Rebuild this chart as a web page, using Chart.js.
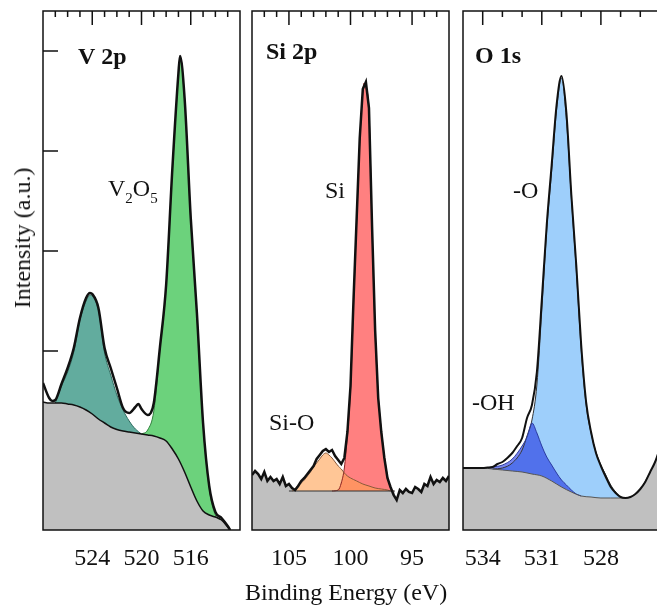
<!DOCTYPE html>
<html>
<head>
<meta charset="utf-8">
<script src="https://cdn.jsdelivr.net/npm/chart.js@4.4.1/dist/chart.umd.min.js"></script>
<style>
html, body { margin:0; padding:0; background:#fff; overflow:hidden; }
#wrap { position:relative; width:657px; height:607px; overflow:hidden; font-family:"Liberation Serif","Times New Roman",serif; color:#111; }
canvas { position:absolute; top:0; }
.axis-title { position:absolute; font-size:24px; line-height:24px; white-space:nowrap; }
</style>
</head>
<body>
<div id="wrap">
  <canvas id="c-v" width="250" height="607" style="left:0"></canvas>
  <canvas id="c-si" width="210" height="607" style="left:245px"></canvas>
  <canvas id="c-o" width="205" height="607" style="left:455px"></canvas>
  <div class="axis-title" style="left:245px; top:580px;">Binding Energy (eV)</div>
  <div class="axis-title" style="left:22px; top:238px; transform:translate(-50%,-50%) rotate(-90deg);">Intensity (a.u.)</div>
</div>
<script>
// intensity axis (a.u.), same for all three panels
const Y_MIN = -0.79, Y_MAX = 4.40;

// ---- V 2p ----
const vTicksMajor = [524, 520, 516];
const vTicksMinor = [527, 526, 525, 523, 522, 521, 519, 518, 517, 515, 514, 513];
const vTicksY = [1, 2, 3, 4];
const vDataE = [528, 527.5, 527.25, 527, 526.5, 526, 525.5, 525, 524.5, 524.18, 524, 523.5, 523, 522.5, 522, 521.5, 521, 520.5, 520.25, 520, 519.5, 519.25, 519, 518.5, 518, 517.5, 517, 516.87, 516.5, 516, 515.5, 515, 514.5, 514, 513.5, 513, 512.8];
const vData  = [0.68, 0.53, 0.50, 0.51, 0.67, 0.83, 1.03, 1.33, 1.53, 1.58, 1.57, 1.43, 1.03, 0.83, 0.63, 0.43, 0.38, 0.44, 0.47, 0.42, 0.36, 0.38, 0.48, 1.04, 1.66, 2.81, 3.78, 3.95, 3.53, 2.33, 1.38, 0.28, -0.35, -0.61, -0.67, -0.75, -0.79];
const vBgE = [528, 527.5, 527, 526.5, 526, 525.5, 525, 524.5, 524, 523.5, 523, 522.5, 522, 521.5, 521, 520.5, 520, 519.5, 519, 518.5, 518, 517.5, 517, 516.5, 516, 515.5, 515, 514.5, 514, 513.5, 513, 512.8];
const vBg  = [0.49, 0.48, 0.48, 0.48, 0.47, 0.46, 0.44, 0.41, 0.37, 0.32, 0.28, 0.24, 0.215, 0.20, 0.19, 0.18, 0.17, 0.16, 0.15, 0.13, 0.10, 0.02, -0.08, -0.21, -0.36, -0.50, -0.60, -0.64, -0.66, -0.69, -0.76, -0.79];
const vTealE = [527, 526.5, 526, 525.5, 525, 524.5, 524.18, 524, 523.5, 523, 522.5, 522, 521.5, 521, 520.5, 520];
const vTeal  = [0.48, 0.65, 0.79, 0.99, 1.31, 1.50, 1.56, 1.55, 1.41, 0.98, 0.76, 0.56, 0.41, 0.30, 0.22, 0.17];
const vGreenE = [520, 519.5, 519, 518.5, 518, 517.5, 517, 516.87, 516.5, 516, 515.5, 515, 514.5, 514, 513.5];
const vGreen  = [0.17, 0.21, 0.40, 1.02, 1.64, 2.79, 3.76, 3.93, 3.51, 2.31, 1.36, 0.26, -0.37, -0.64, -0.69];

// ---- Si 2p ----
const siTicksMajor = [105, 100, 95];
const siTicksMinor = [107, 106, 104, 103, 102, 101, 99, 98, 97, 96, 94, 93];
const siDataE = [108, 107.75, 107.5, 107.25, 107, 106.75, 106.5, 106.25, 106, 105.75, 105.5, 105.25, 105, 104.75, 104.5, 104.25, 104, 103.75, 103.5, 103.25, 103, 102.75, 102.5, 102.25, 102, 101.75, 101.5, 101.25, 101, 100.75, 100.5, 100.25, 100, 99.75, 99.5, 99.25, 99, 98.75, 98.5, 98.25, 98, 97.75, 97.5, 97.25, 97, 96.75, 96.5, 96.25, 96, 95.75, 95.5, 95.25, 95, 94.75, 94.5, 94.25, 94, 93.75, 93.5, 93.25, 93, 92.75, 92.5, 92.25, 92];
const siData  = [-0.24, -0.20, -0.23, -0.28, -0.21, -0.30, -0.26, -0.30, -0.28, -0.33, -0.26, -0.35, -0.33, -0.37, -0.39, -0.35, -0.30, -0.27, -0.23, -0.19, -0.15, -0.08, -0.04, 0.00, 0.02, -0.01, 0.01, -0.05, -0.09, -0.13, -0.07, 0.19, 0.65, 1.53, 2.33, 3.13, 3.62, 3.69, 3.43, 2.25, 1.21, 0.53, 0.19, -0.07, -0.27, -0.36, -0.44, -0.49, -0.39, -0.42, -0.38, -0.41, -0.42, -0.36, -0.38, -0.41, -0.33, -0.35, -0.26, -0.33, -0.29, -0.31, -0.27, -0.30, -0.25];
const siBgE = [105, 96.4];
const siBg  = [-0.40, -0.40];
const siOxE = [104.75, 104.5, 104.25, 104, 103.75, 103.5, 103.25, 103, 102.75, 102.5, 102.25, 102, 101.75, 101.5, 101.25, 101, 100.75, 100.5, 100.25, 100, 99.5, 99, 98.5, 98, 97.5, 97, 96.75];
const siOx  = [-0.40, -0.38, -0.34, -0.32, -0.29, -0.25, -0.21, -0.16, -0.12, -0.08, -0.04, -0.02, -0.04, -0.07, -0.11, -0.15, -0.18, -0.22, -0.25, -0.27, -0.30, -0.33, -0.35, -0.37, -0.38, -0.39, -0.40];
const siE = [101.5, 101, 100.75, 100.5, 100.25, 100, 99.75, 99.5, 99.25, 99, 98.9, 98.75, 98.5, 98.25, 98, 97.75, 97.5, 97.25, 97, 96.75, 96.5];
const si  = [-0.40, -0.39, -0.32, -0.17, 0.16, 0.61, 1.48, 2.29, 3.09, 3.59, 3.68, 3.63, 3.41, 2.23, 1.18, 0.56, 0.21, -0.05, -0.25, -0.37, -0.40];
// raw data is shaded grey only outside the fitted region
const SI_LEFT_END = 14, SI_RIGHT_START = 45;

// ---- O 1s ----
const oTicksMajor = [534, 531, 528];
const oTicksMinor = [533, 532, 530, 529, 527, 526];
const oDataE = [535, 534.75, 534.5, 534.25, 534, 533.75, 533.5, 533.25, 533, 532.75, 532.5, 532.25, 532, 531.75, 531.5, 531.25, 531, 530.75, 530.5, 530.25, 530, 529.75, 529.5, 529.25, 529, 528.75, 528.5, 528.25, 528, 527.75, 527.5, 527.25, 527, 526.75, 526.5, 526.25, 526, 525.75, 525.5, 525.25, 525];
const oData  = [-0.17, -0.17, -0.17, -0.17, -0.17, -0.165, -0.16, -0.13, -0.11, -0.07, -0.02, 0.05, 0.13, 0.33, 0.46, 0.79, 1.51, 2.26, 2.86, 3.46, 3.75, 3.38, 2.56, 1.86, 1.06, 0.49, 0.19, -0.02, -0.15, -0.26, -0.36, -0.42, -0.46, -0.47, -0.46, -0.43, -0.38, -0.31, -0.21, -0.11, 0.03];
const oBgE = [535, 534.5, 534, 533.5, 533, 532.5, 532, 531.5, 531, 530.5, 530, 529.5, 529, 528.5, 528, 527.5, 527, 526.5, 526, 525.5, 525.25, 525];
const oBg  = [-0.17, -0.17, -0.17, -0.18, -0.19, -0.20, -0.21, -0.23, -0.25, -0.30, -0.36, -0.41, -0.45, -0.46, -0.47, -0.47, -0.47, -0.46, -0.38, -0.21, -0.11, 0.03];
const oOxE = [533.5, 533, 532.5, 532, 531.75, 531.5, 531.25, 531, 530.75, 530.5, 530.25, 530, 529.75, 529.5, 529.25, 529, 528.75, 528.5, 528.25, 528, 527.75, 527.5, 527.25, 527, 526.75];
const oOx  = [-0.18, -0.17, -0.12, 0.01, 0.15, 0.31, 0.66, 1.41, 2.21, 2.80, 3.41, 3.73, 3.31, 2.53, 1.81, 1.01, 0.46, 0.18, -0.01, -0.14, -0.24, -0.34, -0.41, -0.46, -0.47];
const oOhE = [534, 533.5, 533, 532.5, 532, 531.75, 531.5, 531.25, 531, 530.75, 530.5, 530.25, 530, 529.75, 529.5, 529.25, 529];
const oOh  = [-0.17, -0.16, -0.14, -0.08, 0.05, 0.14, 0.28, 0.18, 0.05, -0.06, -0.14, -0.22, -0.29, -0.34, -0.39, -0.43, -0.45];

const SERIF = '"Liberation Serif", "Times New Roman", serif';

// frame + inward ticks on top (x) and left (y)
const frameTicks = {
  id: 'frameTicks',
  afterDatasetsDraw(chart, args, o) {
    const { ctx, chartArea: a, scales: { x, y } } = chart;
    ctx.save();
    ctx.strokeStyle = '#111';
    ctx.lineWidth = 1.5;
    ctx.strokeRect(a.left, a.top, a.right - a.left, a.bottom - a.top);
    ctx.beginPath();
    (o.minor || []).forEach(v => { const p = x.getPixelForValue(v); ctx.moveTo(p, a.top); ctx.lineTo(p, a.top + 6); });
    (o.major || []).forEach(v => { const p = x.getPixelForValue(v); ctx.moveTo(p, a.top); ctx.lineTo(p, a.top + 14); });
    (o.yMajor || []).forEach(v => { const p = y.getPixelForValue(v); ctx.moveTo(a.left, p); ctx.lineTo(a.left + 15, p); });
    ctx.stroke();
    ctx.restore();
  }
};

// text inside the panels; each item is a run of parts, sub = subscript
const labels = {
  id: 'labels',
  afterDraw(chart, args, o) {
    const ctx = chart.ctx;
    ctx.save();
    ctx.fillStyle = '#111';
    ctx.textBaseline = 'alphabetic';
    (o.items || []).forEach(it => {
      let px = it.x;
      it.parts.forEach(p => {
        ctx.font = (it.bold ? 'bold ' : '') + (p.sub ? 15 : 24) + 'px ' + SERIF;
        ctx.fillText(p.t, px, it.y + (p.sub ? 7 : 0));
        px += ctx.measureText(p.t).width;
      });
    });
    ctx.restore();
  }
};

const line = (xs, ys, o) => Object.assign({
  data: xs.map((x, i) => ({ x, y: ys[i] })),
  pointRadius: 0, borderWidth: 1, fill: false
}, o);

function makeChart(id, c) {
  return new Chart(document.getElementById(id), {
    type: 'line',
    data: { datasets: c.datasets },
    options: {
      responsive: false, animation: false,
      layout: { padding: { left: c.padL, right: c.padR, top: 11, bottom: 32 } },
      elements: { line: { cubicInterpolationMode: 'monotone' } },
      plugins: {
        legend: { display: false }, tooltip: { enabled: false },
        filler: { drawTime: 'beforeDatasetsDraw' },
        frameTicks: { major: c.major, minor: c.minor, yMajor: c.yMajor },
        labels: { items: c.labels }
      },
      scales: {
        x: {
          type: 'linear', reverse: true, min: c.min, max: c.max,
          afterBuildTicks: s => { s.ticks = c.major.map(v => ({ value: v })); },
          afterFit: s => { s.height = 45; },
          grid: { display: false }, border: { display: false },
          ticks: { autoSkip: false, maxRotation: 0, padding: 6, color: '#111', font: { family: SERIF, size: 24 } }
        },
        y: { display: false, min: Y_MIN, max: Y_MAX }
      }
    },
    plugins: [frameTicks, labels]
  });
}

// datasets listed top layer first
makeChart('c-v', {
  min: 512, max: 528, padL: 43, padR: 10,
  major: vTicksMajor, minor: vTicksMinor, yMajor: vTicksY,
  datasets: [
    line(vDataE, vData, { borderColor: '#111', borderWidth: 2.5 }),
    line(vBgE, vBg, { borderColor: '#111', borderWidth: 1.5, fill: 'start', backgroundColor: '#c0c0c0' }),
    line(vGreenE, vGreen, { borderColor: '#2f7d3b', fill: 'start', backgroundColor: '#6cd27c' }),
    line(vTealE, vTeal, { borderColor: '#2d6b5e', fill: 'start', backgroundColor: '#62ac9e' })
  ],
  labels: [
    { x: 78, y: 64, bold: true, parts: [{ t: 'V 2p' }] },
    { x: 108, y: 196, parts: [{ t: 'V' }, { t: '2', sub: true }, { t: 'O' }, { t: '5', sub: true }] }
  ]
});

const greyUnder = (xs, ys) => line(xs, ys, { borderWidth: 0, borderColor: 'rgba(0,0,0,0)', fill: 'start', backgroundColor: '#c0c0c0', tension: 0, cubicInterpolationMode: 'default' });

makeChart('c-si', {
  min: 92, max: 108, padL: 7, padR: 6,
  major: siTicksMajor, minor: siTicksMinor,
  datasets: [
    line(siDataE, siData, { borderColor: '#111', borderWidth: 2.5, tension: 0, cubicInterpolationMode: 'default' }),
    line(siBgE, siBg, { borderColor: '#333', borderWidth: 1.2, fill: 'start', backgroundColor: '#c0c0c0' }),
    line(siOxE, siOx, { borderColor: '#8a5a3a', fill: 'start', backgroundColor: 'rgba(255,160,80,0.6)' }),
    line(siE, si, { borderColor: '#8a2020', fill: 'start', backgroundColor: '#ff8080' }),
    greyUnder(siDataE.slice(0, SI_LEFT_END), siData.slice(0, SI_LEFT_END)),
    greyUnder(siDataE.slice(SI_RIGHT_START), siData.slice(SI_RIGHT_START))
  ],
  labels: [
    { x: 21, y: 59, bold: true, parts: [{ t: 'Si 2p' }] },
    { x: 80, y: 198, parts: [{ t: 'Si' }] },
    { x: 24, y: 430, parts: [{ t: 'Si-O' }] }
  ]
});

makeChart('c-o', {
  min: 525, max: 535, padL: 8, padR: 0,
  major: oTicksMajor, minor: oTicksMinor,
  datasets: [
    line(oDataE, oData, { borderColor: '#111', borderWidth: 2 }),
    line(oBgE, oBg, { borderColor: '#555', borderWidth: 1, fill: 'start', backgroundColor: '#c0c0c0' }),
    line(oOhE, oOh, { borderColor: '#2a3aa0', fill: 'start', backgroundColor: 'rgba(30,50,225,0.6)' }),
    line(oOxE, oOx, { borderColor: '#333', fill: 'start', backgroundColor: '#9ecffb' })
  ],
  labels: [
    { x: 20, y: 63, bold: true, parts: [{ t: 'O 1s' }] },
    { x: 58, y: 198, parts: [{ t: '-O' }] },
    { x: 17, y: 410, parts: [{ t: '-OH' }] }
  ]
});
</script>
</body>
</html>
